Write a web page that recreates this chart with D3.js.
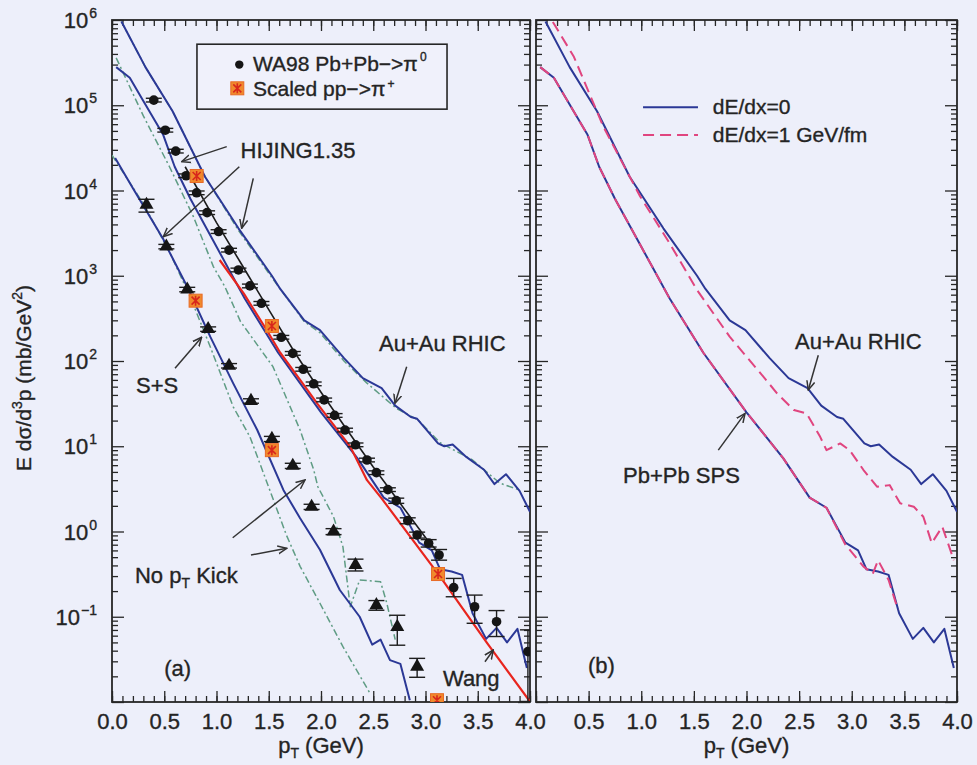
<!DOCTYPE html>
<html>
<head>
<meta charset="utf-8">
<script src="https://cdn.jsdelivr.net/npm/d3@7"></script>
<style>
  body { margin: 0; background: #edeffa; }
  text { font-family: "Liberation Sans", Arial, Helvetica, sans-serif; fill: #242424; stroke: #242424; stroke-width: 0.35; }
</style>
</head>
<body>
<svg id="chart" width="977" height="765"></svg>
<script>
// ---- values ----
const ptTicks = [0, 0.5, 1, 1.5, 2, 2.5, 3, 3.5, 4];
const decadeExp = [-2, -1, 0, 1, 2, 3, 4, 5, 6];

// WA98 Pb+Pb -> pi0 (circles)
const wa98Pt  = [0.40, 0.51, 0.61, 0.71, 0.81, 0.91, 1.02, 1.12, 1.21, 1.32, 1.43, 1.62, 1.73, 1.83, 1.93, 2.03, 2.13, 2.23, 2.33, 2.44, 2.53, 2.64, 2.72, 2.83, 2.92, 3.03, 3.13, 3.27, 3.47, 3.68, 3.98];
const wa98Val = [1.15e5, 5.1e4, 2.9e4, 1.49e4, 9.4e3, 5.5e3, 3.3e3, 2.0e3, 1.17e3, 760, 475, 190, 123, 80, 54, 35, 23, 15.5, 10.4, 6.9, 4.9, 3.1, 2.3, 1.34, 0.91, 0.73, 0.53, 0.22, 0.131, 0.0875, 0.039];
const wa98Up  = [0.05, 0.05, 0.05, 0.05, 0.05, 0.05, 0.05, 0.05, 0.05, 0.05, 0.05, 0.05, 0.05, 0.05, 0.05, 0.05, 0.05, 0.05, 0.05, 0.05, 0.05, 0.05, 0.07, 0.08, 0.08, 0.10, 0.16, 0.28, 0.37, 0.35, 0.80];
const wa98Dn  = [0.05, 0.05, 0.05, 0.05, 0.05, 0.05, 0.05, 0.05, 0.05, 0.05, 0.05, 0.05, 0.05, 0.05, 0.05, 0.05, 0.05, 0.05, 0.05, 0.05, 0.05, 0.05, 0.07, 0.08, 0.08, 0.10, 0.13, 0.22, 0.36, 0.33, 0.74];

// S+S data (triangles)
const ssPt  = [0.33, 0.52, 0.72, 0.92, 1.12, 1.33, 1.53, 1.73, 1.91, 2.12, 2.33, 2.53, 2.73, 2.92];
const ssVal = [6.8e3, 2.2e3, 690, 237, 88, 34, 12.2, 5.9, 1.95, 1.0, 0.405, 0.137, 0.076, 0.026];
const ssUp  = [0.16, 0.06, 0.06, 0.06, 0.06, 0.06, 0.07, 0.07, 0.07, 0.08, 0.17, 0.13, 0.37, 0.25];
const ssDn  = [0.18, 0.06, 0.06, 0.06, 0.06, 0.06, 0.07, 0.07, 0.07, 0.08, 0.15, 0.13, 0.39, 0.25];

// scaled pp -> pi+ (orange squares)
const ppPt  = [0.81, 1.53, 3.12, 0.80, 1.53, 3.11];
const ppVal = [1.48e4, 257, 0.317, 510, 9.0, 0.0105];

// HIJING1.35 with pT kick (blue solid), also dE/dx=0 in panel (b)
const auKickPt  = [0.09, 0.32, 0.58, 0.89, 1.21, 1.53, 1.61, 1.84, 1.99, 2.22, 2.40, 2.58, 2.71, 2.86, 2.92, 3.12, 3.18, 3.26, 3.39, 3.56, 3.66, 3.77, 3.90, 4.00];
const auKickVal = [9.6e5, 2.8e5, 8.5e4, 1.45e4, 3.6e3, 1.0e3, 700, 300, 230, 108, 63, 48, 30, 22, 21, 10.8, 10.0, 10.5, 7.5, 5.3, 3.6, 4.7, 3.0, 1.7];
const pbKickPt  = [0.04, 0.17, 0.30, 0.49, 0.60, 0.75, 0.96, 1.27, 1.59, 2.00, 2.35, 2.60, 2.76, 2.94, 3.06, 3.14, 3.25, 3.35, 3.45, 3.58, 3.68, 3.78, 3.88, 3.97];
const pbKickVal = [2.8e5, 2.1e5, 1.12e5, 4.5e4, 1.9e4, 8.0e3, 2.7e3, 540, 125, 25, 7.2, 2.5, 1.9, 0.74, 0.6, 0.36, 0.34, 0.31, 0.11, 0.055, 0.074, 0.05, 0.072, 0.025];
const ssKickPt  = [0.03, 0.20, 0.49, 0.54, 0.72, 0.94, 1.16, 1.39, 1.64, 1.80, 1.99, 2.18, 2.37, 2.49, 2.57, 2.66, 2.76, 2.85];
const ssKickVal = [2.4e4, 1.06e4, 2.7e3, 2.0e3, 743, 193, 54.7, 15.5, 3.07, 1.43, 0.61, 0.206, 0.1, 0.047, 0.054, 0.031, 0.028, 0.0105];

// HIJING1.35 without pT kick (green dash-dot)
const auNoPt  = [0.09, 0.32, 0.58, 0.89, 1.21, 1.53, 1.84, 1.99, 2.22, 2.44, 2.72, 2.93, 3.14, 3.45, 3.71, 3.90];
const auNoVal = [9.6e5, 2.8e5, 8.5e4, 1.45e4, 3.4e3, 950, 290, 215, 100, 55, 27.9, 20.3, 11, 6.9, 3.7, 3.07];
const pbNoPt  = [0.04, 0.30, 0.55, 0.78, 0.97, 1.08, 1.23, 1.54, 1.80, 1.93, 1.97, 2.12, 2.21, 2.28, 2.37, 2.57, 2.63, 2.71];
const pbNoVal = [3.6e5, 7.5e4, 1.9e4, 4.9e3, 1.28e3, 745, 290, 86, 15.5, 5.3, 3.35, 1.49, 0.66, 0.131, 0.27, 0.257, 0.144, 0.054];
const ssNoPt  = [0.00, 0.30, 0.55, 0.75, 0.94, 1.16, 1.32, 1.50, 1.67, 1.80, 1.99, 2.21, 2.47];
const ssNoVal = [2.6e4, 7.0e3, 1.9e3, 560, 147, 29, 12.9, 3.3, 0.9, 0.39, 0.144, 0.0446, 0.0126];

// dark line along the WA98 points
const fitPt  = [0.70, 1.00, 1.25, 1.50, 1.75, 2.00, 2.25, 2.50, 2.75, 3.00, 3.13];
const fitVal = [1.9e4, 4.2e3, 1.3e3, 400, 125, 43, 15.5, 5.7, 2.2, 0.85, 0.55];

// Wang (red)
const wangPt  = [1.03, 1.26, 1.48, 1.61, 1.80, 1.97, 2.28, 2.44, 2.58, 3.14, 3.59, 4.00];
const wangVal = [1530, 620, 231, 125, 60, 31, 9.9, 4.0, 2.45, 0.295, 0.049, 0.0101];

// panel (b): dE/dx = 1 GeV/fm (pink dashed)
const auLossPt  = [0.16, 0.36, 0.64, 0.99, 1.27, 1.53, 1.84, 2.16, 2.29, 2.45, 2.57, 2.70, 2.76, 2.89, 2.98, 3.11, 3.24, 3.36, 3.46, 3.59, 3.68, 3.76, 3.86, 3.97];
const auLossVal = [9.5e5, 3.7e5, 5.6e4, 8.5e3, 2.4e3, 681, 193, 65.5, 41.8, 26.6, 24.3, 12.9, 9.0, 10.8, 9.0, 5.3, 3.35, 3.5, 2.14, 1.95, 1.49, 0.73, 1.14, 0.46];
const pbLossPt  = [0.04, 0.17, 0.30, 0.49, 0.60, 0.75, 0.96, 1.27, 1.59, 2.00, 2.35, 2.60, 2.76, 2.94, 3.11, 3.20, 3.25, 3.35, 3.44];
const pbLossVal = [2.8e5, 2.1e5, 1.12e5, 4.5e4, 1.9e4, 8.0e3, 2.7e3, 540, 125, 25, 7.2, 2.5, 1.9, 0.70, 0.39, 0.32, 0.46, 0.27, 0.12];

// ---- layout ----
const svg = d3.select("#chart");
svg.append("rect").attr("width", 977).attr("height", 765).attr("fill", "#edeffa");

const plotTop = 20, plotBottom = 702;
const y  = d3.scaleLog().domain([1e-2, 1e6]).range([plotBottom, plotTop]);
const xA = d3.scaleLinear().domain([0, 4]).range([112, 530]);
const xB = d3.scaleLinear().domain([0, 4]).range([536, 957]);

const BLUE = "#2b3896", GREEN = "#5f9c84", RED = "#e8251e", PINK = "#e0457f", INK = "#262626";

const defs = svg.append("defs");
defs.append("marker").attr("id", "arrow")
    .attr("viewBox", "0 0 10 10").attr("refX", 9).attr("refY", 5)
    .attr("markerWidth", 10).attr("markerHeight", 10).attr("orient", "auto")
    .attr("markerUnits", "userSpaceOnUse")
    .append("path").attr("d", "M0,1 L9,5 L0,9").attr("fill", "none")
    .attr("stroke", "#333").attr("stroke-width", 1.5);

const yMinor = [];
decadeExp.slice(0, -1).forEach(e => {
    for (let k = 2; k <= 9; k++) yMinor.push(k * Math.pow(10, e));
});
const decades = decadeExp.map(e => Math.pow(10, e));

function drawPanel(id, x, withZero) {
    const g = svg.append("g").attr("class", "panel-" + id);
    const x0 = x.range()[0], x1 = x.range()[1];

    defs.append("clipPath").attr("id", "clip-" + id)
        .append("rect").attr("x", x0).attr("y", plotTop).attr("width", x1 - x0).attr("height", plotBottom - plotTop);

    // ticks, all pointing inward
    const tickAxes = [
        [d3.axisBottom(x).tickValues(d3.range(0, 4.001, 0.1)).tickSize(-6), `translate(0,${plotBottom})`],
        [d3.axisBottom(x).tickValues(ptTicks).tickSize(-11), `translate(0,${plotBottom})`],
        [d3.axisTop(x).tickValues(d3.range(0, 4.001, 0.1)).tickSize(-6), `translate(0,${plotTop})`],
        [d3.axisTop(x).tickValues(ptTicks).tickSize(-11), `translate(0,${plotTop})`],
        [d3.axisLeft(y).tickValues(yMinor).tickSize(-6), `translate(${x0},0)`],
        [d3.axisLeft(y).tickValues(decades).tickSize(-12), `translate(${x0},0)`],
        [d3.axisRight(y).tickValues(yMinor).tickSize(-6), `translate(${x1},0)`],
        [d3.axisRight(y).tickValues(decades).tickSize(-12), `translate(${x1},0)`]
    ];
    tickAxes.forEach(([ax, tr]) => {
        g.append("g").attr("transform", tr).call(ax.tickFormat(""))
            .call(s => s.select(".domain").remove())
            .selectAll("line").attr("stroke", INK).attr("stroke-width", 1.3);
    });

    // x tick labels
    const labels = withZero ? ptTicks : ptTicks.slice(1);
    g.append("g").attr("transform", `translate(0,${plotBottom})`)
        .call(d3.axisBottom(x).tickValues(labels).tickSize(0).tickPadding(11).tickFormat(d3.format(".1f")))
        .call(s => s.select(".domain").remove())
        .selectAll("text").attr("font-size", 22).attr("fill", INK)
        .style("font-family", '"Liberation Sans", Arial, sans-serif');

    // x title
    const t = g.append("text").attr("x", (x0 + x1) / 2).attr("y", 753)
        .attr("text-anchor", "middle").attr("font-size", 22);
    t.append("tspan").text("p");
    t.append("tspan").attr("font-size", 14).attr("dy", 5).text("T");
    t.append("tspan").attr("dy", -5).text(" (GeV)");

    // frame
    g.append("rect").attr("x", x0).attr("y", plotTop).attr("width", x1 - x0).attr("height", plotBottom - plotTop)
        .attr("fill", "none").attr("stroke", INK).attr("stroke-width", 1.8);

    const plot = g.append("g").attr("clip-path", `url(#clip-${id})`);
    return { g, plot, x };
}

const A = drawPanel("a", xA, true);
const B = drawPanel("b", xB, false);

// y tick labels (panel a only)
const yl = svg.append("g");
decadeExp.filter(e => e > -2).forEach(e => {
    const t = yl.append("text").attr("x", 97).attr("y", y(Math.pow(10, e)) + 8)
        .attr("text-anchor", "end").attr("font-size", 22);
    t.append("tspan").text("10");
    t.append("tspan").attr("font-size", 14).attr("dy", -10).attr("dx", 1).text(e < 0 ? "\u2212" + (-e) : e);
});

// y title
const yt = svg.append("text").attr("transform", "translate(31,378) rotate(-90)")
    .attr("text-anchor", "middle").attr("font-size", 21);
yt.append("tspan").text("E d\u03c3/d");
yt.append("tspan").attr("font-size", 14).attr("dy", -9).text("3");
yt.append("tspan").attr("dy", 9).text("p  (mb/GeV");
yt.append("tspan").attr("font-size", 14).attr("dy", -9).text("2");
yt.append("tspan").attr("dy", 9).text(")");

// ---- curves ----
function curve(panel, pts, vals, color, width, dash) {
    const line = d3.line().x(d => panel.x(d[0])).y(d => y(d[1]));
    panel.plot.append("path").datum(d3.zip(pts, vals))
        .attr("d", line).attr("fill", "none")
        .attr("stroke", color).attr("stroke-width", width)
        .attr("stroke-dasharray", dash || null)
        .attr("stroke-linejoin", "round");
}

const DASHDOT = "7,3,2,3";
curve(A, auNoPt, auNoVal, GREEN, 1.5, DASHDOT);
curve(A, pbNoPt, pbNoVal, GREEN, 1.5, DASHDOT);
curve(A, ssNoPt, ssNoVal, GREEN, 1.5, DASHDOT);
curve(A, auKickPt, auKickVal, BLUE, 2);
curve(A, pbKickPt, pbKickVal, BLUE, 2);
curve(A, ssKickPt, ssKickVal, BLUE, 2);
curve(A, fitPt, fitVal, "#1c1c1c", 1.6);
curve(A, wangPt, wangVal, RED, 2.2);

curve(B, auKickPt, auKickVal, BLUE, 2);
curve(B, pbKickPt, pbKickVal, BLUE, 2);
curve(B, auLossPt, auLossVal, PINK, 2, "11,6");
curve(B, pbLossPt, pbLossVal, PINK, 2, "11,6");

// ---- data points ----
function errorBars(panel, pts, vals, up, dn) {
    const eb = panel.plot.append("g").attr("stroke", "#1e1e1e").attr("stroke-width", 1.4);
    pts.forEach((p, i) => {
        const cx = panel.x(p);
        const hi = y(vals[i] * (1 + up[i])), lo = y(Math.max(vals[i] * (1 - dn[i]), 1e-2));
        eb.append("line").attr("x1", cx).attr("x2", cx).attr("y1", hi).attr("y2", lo);
        eb.append("line").attr("x1", cx - 8).attr("x2", cx + 8).attr("y1", hi).attr("y2", hi);
        eb.append("line").attr("x1", cx - 8).attr("x2", cx + 8).attr("y1", lo).attr("y2", lo);
    });
}

errorBars(A, wa98Pt, wa98Val, wa98Up, wa98Dn);
errorBars(A, ssPt, ssVal, ssUp, ssDn);

A.plot.append("g").selectAll("circle").data(d3.zip(wa98Pt, wa98Val)).join("circle")
    .attr("cx", d => xA(d[0])).attr("cy", d => y(d[1])).attr("r", 4.8).attr("fill", "#151515");

const tri = d3.symbol().type(d3.symbolTriangle).size(85);
A.plot.append("g").selectAll("path").data(d3.zip(ssPt, ssVal)).join("path")
    .attr("transform", d => `translate(${xA(d[0])},${y(d[1])})`).attr("d", tri).attr("fill", "#151515");

function ppSquare(sel, cx, cy) {
    const s = sel.append("g").attr("transform", `translate(${cx},${cy})`);
    s.append("rect").attr("x", -6.5).attr("y", -6.5).attr("width", 13).attr("height", 13)
        .attr("fill", "#f08a2c").attr("stroke", "#e86a26").attr("stroke-width", 1);
    s.append("path").attr("d", "M-4,-4 L4,4 M-4,4 L4,-4 M0,-5 L0,5")
        .attr("stroke", "#d8261c").attr("stroke-width", 1.6);
}
d3.zip(ppPt, ppVal).forEach(d => ppSquare(A.plot, xA(d[0]), y(d[1])));

// ---- legend, panel a ----
const legA = svg.append("g");
legA.append("rect").attr("x", xA(0.813)).attr("y", y(5.2e5))
    .attr("width", xA(3.206) - xA(0.813)).attr("height", y(9.0e4) - y(5.2e5))
    .attr("fill", "#f0f1fb").attr("stroke", INK).attr("stroke-width", 1.6);
legA.append("circle").attr("cx", xA(1.218)).attr("cy", y(3.0e5)).attr("r", 4.2).attr("fill", "#151515");
ppSquare(legA, xA(1.199), y(1.58e5));
const l1 = legA.append("text").attr("x", xA(1.349)).attr("y", y(3.0e5) + 6).attr("font-size", 21);
l1.append("tspan").text("WA98 Pb+Pb\u2212>\u03c0");
l1.append("tspan").attr("font-size", 12).attr("dy", -10).attr("dx", 2).text("0");
const l2 = legA.append("text").attr("x", xA(1.349)).attr("y", y(1.58e5) + 8).attr("font-size", 21);
l2.append("tspan").text("Scaled pp\u2212>\u03c0");
l2.append("tspan").attr("font-size", 12).attr("dy", -8).attr("dx", 2).text("+");

// ---- legend, panel b ----
const legB = svg.append("g");
legB.append("line").attr("x1", xB(1.017)).attr("x2", xB(1.539)).attr("y1", y(9.5e4)).attr("y2", y(9.5e4))
    .attr("stroke", BLUE).attr("stroke-width", 2);
legB.append("line").attr("x1", xB(1.017)).attr("x2", xB(1.539)).attr("y1", y(4.48e4)).attr("y2", y(4.48e4))
    .attr("stroke", PINK).attr("stroke-width", 2).attr("stroke-dasharray", "11,6");
legB.append("text").attr("x", xB(1.679)).attr("y", y(9.5e4) + 7).attr("font-size", 21).text("dE/dx=0");
legB.append("text").attr("x", xB(1.679)).attr("y", y(4.48e4) + 7).attr("font-size", 21).text("dE/dx=1 GeV/fm");

// ---- annotations ----
// parts: [text, isSubscript]
function label(x, p, v, parts) {
    const t = svg.append("text").attr("x", x(p)).attr("y", y(v) + 8).attr("font-size", 22);
    let shifted = 0;
    parts.forEach(([s, sub]) => {
        const dy = sub ? 5 - shifted : -shifted;
        shifted = sub ? 5 : 0;
        t.append("tspan").attr("font-size", sub ? 14 : 22).attr("dy", dy).text(s);
    });
}
function arrow(x, p0, v0, p1, v1) {
    svg.append("line").attr("x1", x(p0)).attr("y1", y(v0)).attr("x2", x(p1)).attr("y2", y(v1))
        .attr("stroke", "#333").attr("stroke-width", 1.5).attr("marker-end", "url(#arrow)");
}

label(xA, 1.23, 3.0e4, [["HIJING1.35"]]);
arrow(xA, 1.098, 3.27e4, 0.667, 2.18e4);
arrow(xA, 1.218, 1.9e4, 0.491, 2.87e3);
arrow(xA, 1.352, 1.39e4, 1.241, 3.6e3);

label(xA, 2.555, 163, [["Au+Au RHIC"]]);
arrow(xA, 2.82, 85.7, 2.708, 31.9);

label(xA, 0.23, 52, [["S+S"]]);
arrow(xA, 0.603, 82, 0.858, 190);

label(xA, 0.22, 0.31, [["No p"], ["T", true], [" Kick"]]);
arrow(xA, 1.155, 0.845, 1.847, 4.02);
arrow(xA, 1.33, 0.53, 1.672, 0.635);

label(xA, 0.5, 0.025, [["(a)"]]);
label(xA, 3.167, 0.0191, [["Wang"]]);
arrow(xA, 3.569, 0.0297, 3.649, 0.0407);

label(xB, 2.461, 173, [["Au+Au RHIC"]]);
arrow(xB, 2.682, 117, 2.587, 45.7);
label(xB, 0.827, 4.6, [["Pb+Pb SPS"]]);
arrow(xB, 1.732, 9.0, 1.986, 24.3);
label(xB, 0.494, 0.0272, [["(b)"]]);
</script>
</body>
</html>
